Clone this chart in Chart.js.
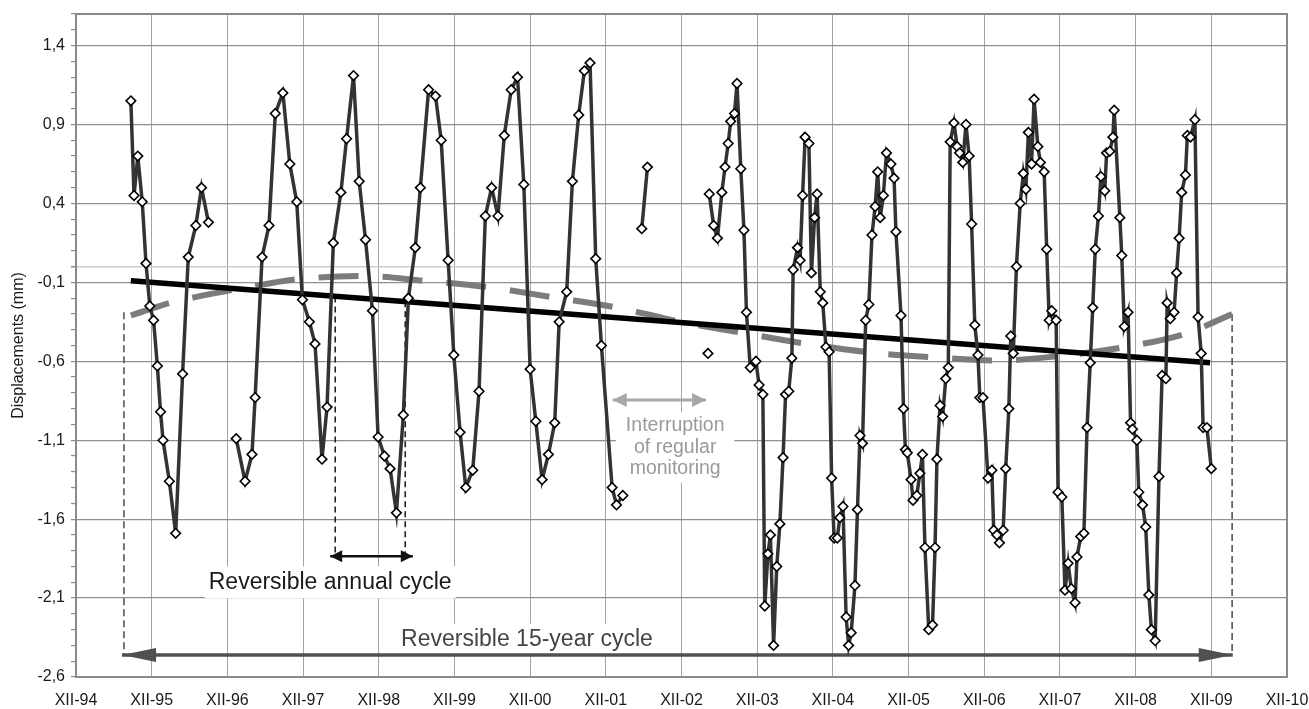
<!DOCTYPE html>
<html>
<head>
<meta charset="utf-8">
<script src="https://cdn.jsdelivr.net/npm/chart.js@4"></script>
<style>
  html, body { margin: 0; padding: 0; background: #fff; }
  canvas { display: block; }
</style>
</head>
<body>
<canvas id="chart" width="1309" height="709"></canvas>
<script>
// ── DATA ── (x = months since XII-94, y = displacement in mm)
const xTickLabels = ['XII-94','XII-95','XII-96','XII-97','XII-98','XII-99','XII-00','XII-01','XII-02','XII-03','XII-04','XII-05','XII-06','XII-07','XII-08','XII-09','XII-10'];
const yTickLabels = ['-2,6','-2,1','-1,6','-1,1','-0,6','-0,1','0,4','0,9','1,4'];

const seg1Months = [8.7, 9.2, 9.8, 10.5, 11.1, 11.7, 12.3, 12.9, 13.4, 13.8, 14.8, 15.8, 16.9, 17.8, 19.0, 19.9, 21.0];
const seg1Values = [1.05, 0.45, 0.70, 0.41, 0.02, -0.25, -0.34, -0.63, -0.92, -1.10, -1.36, -1.69, -0.68, 0.06, 0.26, 0.50, 0.28];

const seg2Months = [25.4, 26.8, 27.9, 28.4, 29.5, 30.6, 31.6, 32.8, 33.9, 35.0,
  35.9, 37.0, 37.9, 39.0, 39.8, 40.8, 42.0, 42.9, 44.0, 44.9,
  45.9, 47.0, 47.9, 48.9, 49.8, 50.8, 51.9, 52.7, 53.8, 54.6,
  55.9, 57.0, 57.9, 59.0, 59.9, 60.9, 61.8, 62.9, 63.9, 64.9,
  65.9, 66.9, 67.9, 69.0, 70.0, 71.0, 72.0, 72.9, 73.9, 74.9,
  75.9, 76.6, 77.8, 78.7, 79.7, 80.6, 81.5, 82.4, 83.3, 85.0,
  85.7, 86.7];
const seg2Values = [-1.09, -1.36, -1.19, -0.83, 0.06, 0.26, 0.97, 1.10, 0.65, 0.41,
  -0.21, -0.35, -0.49, -1.22, -0.89, 0.15, 0.47, 0.81, 1.21, 0.54,
  0.17, -0.28, -1.08, -1.20, -1.28, -1.56, -0.94, -0.20, 0.12, 0.50,
  1.12, 1.08, 0.80, 0.04, -0.56, -1.05, -1.40, -1.29, -0.79, 0.32,
  0.50, 0.32, 0.83, 1.12, 1.20, 0.52, -0.65, -0.98, -1.35, -1.19,
  -0.99, -0.35, -0.16, 0.54, 0.96, 1.24, 1.29, 0.05, -0.50, -1.40,
  -1.51, -1.45];

const seg3Months = [89.7, 90.6];
const seg3Values = [0.24, 0.63];

const seg4Months = [100.2];
const seg4Values = [-0.55];

const seg5Months = [100.4, 101.1, 101.7, 102.4, 102.9, 103.4, 103.8, 104.4, 104.8, 105.4,
  105.9, 106.3, 106.9, 107.8, 108.3, 108.9, 109.2, 109.7, 110.1, 110.6,
  111.1, 111.6, 112.1, 112.5, 113.0, 113.5, 113.7, 114.4, 114.8, 115.2,
  115.6, 116.2, 116.6, 117.1, 117.5, 118.0, 118.4, 118.9, 119.4, 119.8,
  120.2, 120.7, 121.1, 121.6, 122.1, 122.5, 122.9, 123.5, 123.9, 124.3,
  124.7, 125.2, 125.7, 126.2, 126.7, 127.1, 127.5, 128.0, 128.5, 129.2,
  129.7, 130.0, 130.8, 131.2, 131.5, 131.8, 132.4, 132.7, 133.3, 133.8,
  134.2, 134.6, 135.2, 135.8, 136.2, 136.5, 137.0, 137.4, 137.9, 138.3,
  138.6, 139.2, 139.7, 140.1, 140.6, 141.1, 141.6, 142.0, 142.5, 143.0,
  143.3, 143.8, 144.6, 145.2, 145.5, 146.0, 146.4, 147.0, 147.4, 147.9,
  148.2, 148.6, 149.1, 149.7, 150.2, 150.6, 151.0, 151.5, 151.9, 152.5,
  152.9, 153.5, 153.9, 154.3, 154.7, 155.4, 155.7, 156.3, 156.8, 157.3,
  157.8, 158.4, 158.7, 159.3, 159.8, 160.3, 160.8, 161.2, 161.6, 162.1,
  162.5, 163.1, 163.4, 163.9, 164.4, 164.6, 165.5, 165.8, 166.2, 166.8,
  167.2, 167.5, 168.2, 168.5, 169.1, 169.6, 170.1, 170.5, 171.1, 171.7,
  172.2, 172.8, 173.0, 173.5, 174.1, 174.5, 174.9, 175.3, 175.9, 176.2,
  176.7, 177.4, 177.9, 178.4, 178.7, 179.3, 180.0];
const seg5Values = [0.46, 0.26, 0.18, 0.47, 0.63, 0.78, 0.92, 0.97, 1.16, 0.62,
  0.23, -0.29, -0.64, -0.60, -0.75, -0.81, -2.15, -1.82, -1.70, -2.40,
  -1.90, -1.63, -1.21, -0.81, -0.79, -0.58, -0.02, 0.12, 0.04, 0.45,
  0.82, 0.78, -0.04, 0.31, 0.46, -0.16, -0.23, -0.51, -0.54, -1.34,
  -1.72, -1.72, -1.59, -1.52, -2.22, -2.40, -2.32, -2.02, -1.54, -1.07,
  -1.12, -0.34, -0.24, 0.20, 0.38, 0.60, 0.31, 0.45, 0.72, 0.65,
  0.56, 0.22, -0.31, -0.90, -1.16, -1.18, -1.35, -1.48, -1.45, -1.31,
  -1.19, -1.78, -2.30, -2.27, -1.78, -1.22, -0.88, -0.95, -0.71, -0.64,
  0.79, 0.91, 0.76, 0.72, 0.66, 0.90, 0.70, 0.27, -0.37, -0.56,
  -0.83, -0.83, -1.34, -1.29, -1.67, -1.70, -1.75, -1.67, -1.28, -0.90,
  -0.44, -0.55, 0.00, 0.40, 0.59, 0.49, 0.85, 0.65, 1.06, 0.76,
  0.66, 0.60, 0.11, -0.34, -0.28, -0.34, -1.43, -1.46, -2.05, -1.88,
  -2.04, -2.13, -1.84, -1.71, -1.69, -1.02, -0.61, -0.26, 0.11, 0.32,
  0.57, 0.48, 0.72, 0.73, 0.82, 0.99, 0.31, 0.07, -0.38, -0.29,
  -0.99, -1.03, -1.10, -1.43, -1.51, -1.65, -2.08, -2.30, -2.37, -1.33,
  -0.69, -0.71, -0.23, -0.33, -0.29, -0.04, 0.18, 0.47, 0.58, 0.83,
  0.82, 0.93, -0.32, -0.55, -1.02, -1.02, -1.28];

// linear trend
const trendMonths = [8.7, 179.8];
const trendValues = [-0.09, -0.61];

// 15-year cycle (dashed curve)
const cycleMonths = [8.7, 14.9, 18.7, 26.0, 35.2, 45.3, 55.3, 65.3, 75.6, 85.8, 95.8, 105.7, 115.9, 126.2, 135.9, 146.0, 156.3, 166.3, 176.3, 183.3];
const cycleValues = [-0.31, -0.23, -0.195, -0.14, -0.08, -0.06, -0.09, -0.13, -0.195, -0.26, -0.35, -0.42, -0.49, -0.545, -0.575, -0.595, -0.565, -0.51, -0.42, -0.30];

// ── ANNOTATIONS ──
const FONT = '"Liberation Sans", Arial, sans-serif';
const ARROWS = [
  { x0: 7.3,  x1: 183.4, y: -2.46,  color: '#505050', width: 3.5, len: 34, half: 7 },
  { x0: 40.3, x1: 53.4,  y: -1.835, color: '#111111', width: 2.5, len: 12, half: 6 },
  { x0: 85.1, x1: 99.9,  y: -0.845, color: '#a8a8a8', width: 3,   len: 14, half: 7 },
];
const GUIDES = [
  { x: 7.6,   top: -0.29, bottom: -2.46, color: '#555555', dash: [7, 4] },
  { x: 183.3, top: -0.30, bottom: -2.46, color: '#555555', dash: [7, 4] },
  { x: 41.1,  top: -0.19, bottom: -1.83, color: '#222222', dash: [6, 4] },
  { x: 52.2,  top: -0.22, bottom: -1.83, color: '#222222', dash: [6, 4] },
];
const NOTES = [
  { x: 40.3, y: -2.0,   lines: ['Reversible annual cycle'], size: 23, lh: 26, color: '#1a1a1a', pad: 4 },
  { x: 71.5, y: -2.365, lines: ['Reversible 15-year cycle'], size: 23, lh: 26, color: '#444444', pad: 4 },
  { x: 95.0, y: -1.01,  lines: ['Interruption', 'of regular', 'monitoring'], size: 19.5, lh: 21.5, color: '#9a9a9a', pad: 10 },
];

const pts = (xs, ys) => xs.map((x, i) => ({ x, y: ys[i] }));

// ── DATASETS ──
const datasets = [];
[[seg1Months, seg1Values], [seg2Months, seg2Values], [seg3Months, seg3Values],
 [seg4Months, seg4Values], [seg5Months, seg5Values]].forEach(([xs, ys]) => {
  datasets.push({
    data: pts(xs, ys),
    borderColor: '#333333', borderWidth: 3.5, borderJoinStyle: 'miter',
    pointStyle: 'rectRot', pointRadius: 4.8,
    pointBackgroundColor: '#ffffff', pointBorderColor: '#000000', pointBorderWidth: 1.6,
  });
});
datasets.push({
  data: pts(trendMonths, trendValues),
  borderColor: '#000000', borderWidth: 5.5, pointRadius: 0,
});
datasets.push({
  data: pts(cycleMonths, cycleValues),
  borderColor: '#7c7c7c', borderWidth: 6, borderDash: [40, 24], borderCapStyle: 'butt',
  cubicInterpolationMode: 'monotone', pointRadius: 0,
});
GUIDES.forEach(g => datasets.push({
  data: pts([g.x, g.x], [g.top, g.bottom]),
  borderColor: g.color, borderWidth: 1.6, borderDash: g.dash, pointRadius: 0,
}));
ARROWS.forEach(a => datasets.push({
  data: pts([a.x0, a.x1], [a.y, a.y]),
  borderColor: a.color, borderWidth: a.width, pointRadius: 0,
}));

// ── PLUGIN: frame, note boxes, arrowheads, texts ──
const notes = {
  id: 'notes',
  beforeDatasetsDraw(chart) {
    const { ctx, chartArea: a, scales: { x, y } } = chart;
    ctx.save();
    ctx.fillStyle = '#ffffff';
    NOTES.forEach(n => {
      ctx.font = `${n.size}px ${FONT}`;
      const w = Math.max(...n.lines.map(l => ctx.measureText(l).width));
      const px = x.getPixelForValue(n.x), py = y.getPixelForValue(n.y);
      ctx.fillRect(px - w / 2 - n.pad, py - n.lh / 2 - 3, w + 2 * n.pad, n.lines.length * n.lh + 6);
    });
    ctx.strokeStyle = '#8a8a8a'; ctx.lineWidth = 2;
    ctx.strokeRect(a.left, a.top, a.right - a.left, a.bottom - a.top);
    ctx.restore();
  },
  afterDatasetsDraw(chart) {
    const { ctx, scales: { x, y } } = chart;
    ctx.save();
    ARROWS.forEach(a => {
      const py = y.getPixelForValue(a.y);
      [[x.getPixelForValue(a.x0), 1], [x.getPixelForValue(a.x1), -1]].forEach(([tx, dir]) => {
        ctx.fillStyle = a.color;
        ctx.beginPath();
        ctx.moveTo(tx, py);
        ctx.lineTo(tx + dir * a.len, py - a.half);
        ctx.lineTo(tx + dir * a.len, py + a.half);
        ctx.closePath();
        ctx.fill();
      });
    });
    ctx.textAlign = 'center'; ctx.textBaseline = 'middle';
    NOTES.forEach(n => {
      ctx.font = `${n.size}px ${FONT}`;
      ctx.fillStyle = n.color;
      const px = x.getPixelForValue(n.x), py = y.getPixelForValue(n.y);
      n.lines.forEach((l, i) => ctx.fillText(l, px, py + i * n.lh));
    });
    ctx.restore();
  }
};

// ── CHART ──
Chart.defaults.font.family = FONT;
const majorIdx = v => Math.round((v + 2.6) * 10);

new Chart(document.getElementById('chart'), {
  type: 'line',
  data: { datasets },
  options: {
    responsive: false, animation: false, devicePixelRatio: 1,
    layout: { padding: { top: 14, right: 0, left: 0, bottom: 0 } },
    plugins: { legend: { display: false }, tooltip: { enabled: false } },
    scales: {
      x: {
        type: 'linear', min: 0, max: 192,
        ticks: {
          stepSize: 12, autoSkip: false, maxRotation: 0, padding: 14,
          color: '#1a1a1a', font: { size: 16 },
          callback: v => xTickLabels[Math.round(v / 12)] || '',
        },
        grid: { color: '#a4a4a4', lineWidth: 1, drawTicks: false },
        border: { color: '#8a8a8a', width: 2 },
        afterFit: s => { s.height = 32; s.paddingRight = 22; s.paddingLeft = 0; },
      },
      y: {
        min: -2.6, max: 1.6,
        ticks: {
          stepSize: 0.1, maxTicksLimit: 100, autoSkip: false, padding: 6,
          color: '#1a1a1a', font: { size: 16 },
          callback: v => {
            const i = majorIdx(v);
            return i % 5 === 0 && yTickLabels[i / 5] !== undefined ? yTickLabels[i / 5] : '';
          },
        },
        grid: {
          color: c => {
            const i = majorIdx(c.tick.value);
            if (i === 26) return '#cccccc';
            return i % 5 === 0 ? '#8f8f8f' : 'rgba(0,0,0,0)';
          },
          lineWidth: c => majorIdx(c.tick.value) === 26 ? 1.5 : 1.2,
          tickColor: '#8a8a8a', tickLength: 5,
        },
        border: { color: '#8a8a8a', width: 2 },
        title: { display: true, text: 'Displacements (mm)', color: '#1a1a1a', font: { size: 16 }, padding: { top: 9, bottom: 0 } },
        afterFit: s => { s.width = 76; s.paddingTop = 0; s.paddingBottom = 0; },
      },
    },
  },
  plugins: [notes],
});
</script>
</body>
</html>
